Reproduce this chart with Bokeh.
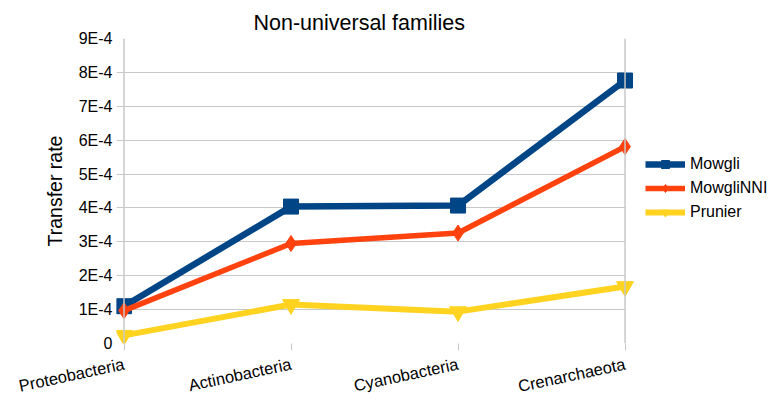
from bokeh.plotting import figure
from bokeh.models import (FixedTicker, Span, Legend, LegendItem, Range1d)
from bokeh.embed import file_html
from bokeh.resources import INLINE

categories = ["Proteobacteria", "Actinobacteria", "Cyanobacteria", "Crenarchaeota"]
mowgli = [1.10e-4, 4.04e-4, 4.07e-4, 7.76e-4]
mowgli_nni = [0.97e-4, 2.95e-4, 3.26e-4, 5.81e-4]
prunier = [0.24e-4, 1.15e-4, 0.94e-4, 1.68e-4]
y_ticks = [0, 1e-4, 2e-4, 3e-4, 4e-4, 5e-4, 6e-4, 7e-4, 8e-4, 9e-4]
y_tick_labels = ["0", "1E-4", "2E-4", "3E-4", "4E-4", "5E-4", "6E-4", "7E-4", "8E-4", "9E-4"]

FONT = "Liberation Sans"
xs = list(range(len(categories)))
pad = 0.045          # room for markers left of the first category
extra = 0.859        # room right of the last category for the legend

p = figure(frame_width=652, frame_height=305, output_backend="svg", toolbar_location=None,
           x_range=Range1d(-pad, xs[-1] + extra), y_range=Range1d(0, 9e-4),
           min_border_left=116, min_border_right=0, min_border_top=38, min_border_bottom=40)
p.outline_line_color = None
p.background_fill_color = "white"

# title
p.title.text = "Non-universal families"
p.title.align = "left"
p.title.text_font = FONT
p.title.text_font_size = "21.5px"
p.title.text_font_style = "normal"
p.title.text_color = "black"
p.title.offset = 137
p.title.standoff = 8

# grid
p.xgrid.grid_line_color = None
p.ygrid.grid_line_color = "#c8c8c8"
p.ygrid.grid_line_width = 1
p.ygrid.ticker = FixedTicker(ticks=y_ticks)
p.ygrid.cross_bounds = (-pad, xs[-1])

# y axis
p.yaxis.ticker = FixedTicker(ticks=y_ticks)
p.yaxis.major_label_overrides = {t: l for t, l in zip(y_ticks, y_tick_labels)}
p.yaxis.axis_line_color = None
p.yaxis.major_tick_line_color = None
p.yaxis.major_tick_out = 0
p.yaxis.major_tick_in = 0
p.yaxis.minor_tick_line_color = None
p.yaxis.minor_tick_out = 0
p.yaxis.major_label_text_font = FONT
p.yaxis.major_label_text_font_size = "16px"
p.yaxis.major_label_text_color = "black"
p.yaxis.major_label_standoff = 4
p.yaxis.axis_label = "Transfer rate"
p.yaxis.axis_label_text_font = FONT
p.yaxis.axis_label_text_font_size = "19.5px"
p.yaxis.axis_label_text_font_style = "normal"
p.yaxis.axis_label_text_color = "black"
p.yaxis.axis_label_standoff = 10

# x axis
p.xaxis.ticker = FixedTicker(ticks=xs)
p.xaxis.major_label_overrides = {i: c for i, c in zip(xs, categories)}
p.xaxis.axis_line_color = None
p.xaxis.major_tick_line_color = "#c8c8c8"
p.xaxis.major_tick_out = 7
p.xaxis.major_tick_in = 0
p.xaxis.minor_tick_line_color = None
p.xaxis.major_label_orientation = 0.21
p.xaxis.major_label_text_font = FONT
p.xaxis.major_label_text_font_size = "16.5px"
p.xaxis.major_label_text_color = "black"
p.xaxis.major_label_standoff = 13

# vertical frame lines at first/last category
for xv in (xs[0], xs[-1]):
    p.add_layout(Span(location=xv, dimension="height", line_color="#c8c8c8", line_width=1.5))

series = [
    ("Mowgli", mowgli, "#004586", "square", 15, 6.5),
    ("MowgliNNI", mowgli_nni, "#ff420e", "diamond", 16, 5.5),
    ("Prunier", prunier, "#ffd320", "inverted_triangle", 17, 6),
]
items = []
for name, vals, col, marker, size, lw in series:
    l = p.line(xs, vals, line_color=col, line_width=lw)
    s = p.scatter(xs, vals, marker=marker, size=size, fill_color=col, line_color=col)
    items.append(LegendItem(label=name, renderers=[l, s]))

legend = Legend(items=items, location=(529, 121), background_fill_alpha=0,
                border_line_color=None, label_text_font=FONT, label_text_font_size="16px",
                label_text_color="black",
                glyph_width=40, glyph_height=20, spacing=4, padding=0, margin=0,
                label_standoff=5)
p.add_layout(legend, "center")

open("out.html", "w").write(file_html(p, INLINE))
